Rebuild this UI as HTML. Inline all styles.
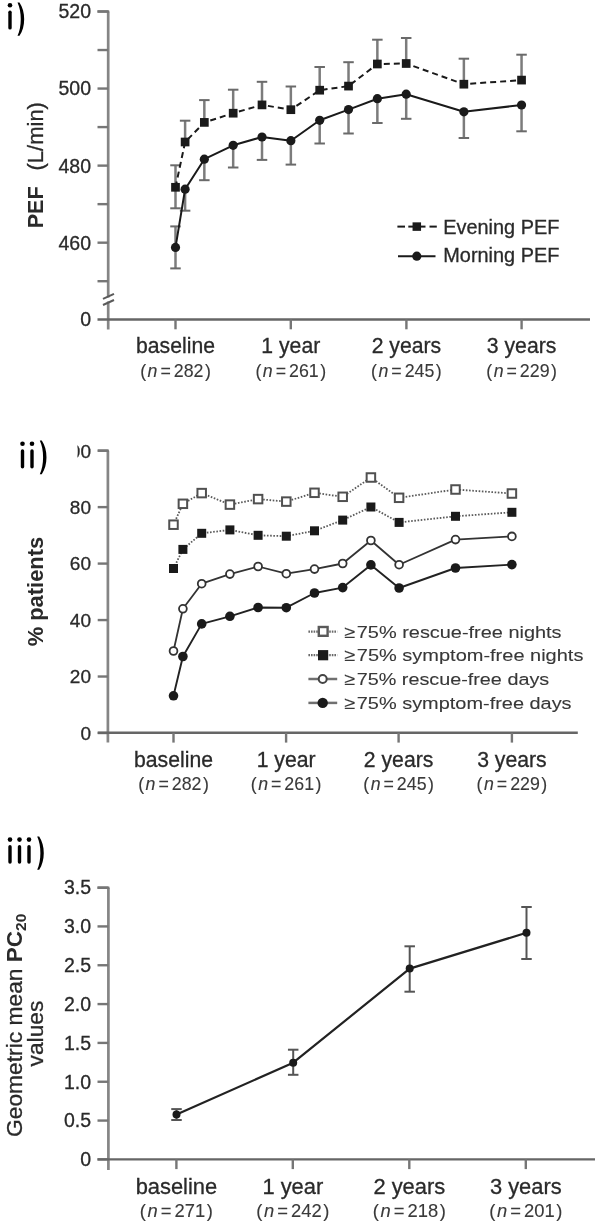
<!DOCTYPE html>
<html><head><meta charset="utf-8"><style>
html,body{margin:0;padding:0;background:#fff;width:597px;height:1226px;overflow:hidden}
svg{display:block;filter:blur(0.4px);}
text{font-family:"Liberation Sans",sans-serif;stroke:#2a2a2a;stroke-width:0.3px}
</style></head><body>
<svg width="597" height="1226" viewBox="0 0 597 1226">
<rect width="597" height="1226" fill="#fff"/>
<line x1="10.00" y1="12.20" x2="10.00" y2="27.90" stroke="#000" stroke-width="3.4" stroke-linecap="round"/>
<circle cx="10.00" cy="5.30" r="2.3" fill="#000"/>
<path d="M17.50,2.40 L19.50,2.40 C25.77,11.42 25.77,26.78 19.50,35.80 L17.50,35.80 C21.90,26.78 21.90,11.42 17.50,2.40 Z" fill="#000"/>
<line x1="108.20" y1="11.50" x2="108.20" y2="297.50" stroke="#858585" stroke-width="2.7" />
<line x1="108.20" y1="301.50" x2="108.20" y2="329.50" stroke="#858585" stroke-width="2.7" />
<line x1="97.50" y1="281.21" x2="108.20" y2="281.21" stroke="#767676" stroke-width="2.4" />
<line x1="97.50" y1="242.68" x2="108.20" y2="242.68" stroke="#767676" stroke-width="2.4" />
<line x1="97.50" y1="204.15" x2="108.20" y2="204.15" stroke="#767676" stroke-width="2.4" />
<line x1="97.50" y1="165.62" x2="108.20" y2="165.62" stroke="#767676" stroke-width="2.4" />
<line x1="97.50" y1="127.09" x2="108.20" y2="127.09" stroke="#767676" stroke-width="2.4" />
<line x1="97.50" y1="88.56" x2="108.20" y2="88.56" stroke="#767676" stroke-width="2.4" />
<line x1="97.50" y1="50.03" x2="108.20" y2="50.03" stroke="#767676" stroke-width="2.4" />
<line x1="97.50" y1="11.50" x2="108.20" y2="11.50" stroke="#767676" stroke-width="2.4" />
<line x1="97.50" y1="11.50" x2="109.20" y2="11.50" stroke="#767676" stroke-width="2.4" />
<line x1="103.00" y1="298.80" x2="114.00" y2="293.80" stroke="#5a5a5a" stroke-width="2" />
<line x1="103.00" y1="305.00" x2="114.00" y2="300.00" stroke="#5a5a5a" stroke-width="2" />
<line x1="97.50" y1="319.50" x2="590.00" y2="319.50" stroke="#666" stroke-width="2.4" />
<line x1="175.50" y1="319.50" x2="175.50" y2="329.30" stroke="#767676" stroke-width="2.4" />
<line x1="290.80" y1="319.50" x2="290.80" y2="329.30" stroke="#767676" stroke-width="2.4" />
<line x1="406.40" y1="319.50" x2="406.40" y2="329.30" stroke="#767676" stroke-width="2.4" />
<line x1="521.60" y1="319.50" x2="521.60" y2="329.30" stroke="#767676" stroke-width="2.4" />
<text x="91.00" y="18.40" font-size="19.5" text-anchor="end" font-weight="normal" fill="#2a2a2a" >520</text>
<text x="91.00" y="95.46" font-size="19.5" text-anchor="end" font-weight="normal" fill="#2a2a2a" >500</text>
<text x="91.00" y="172.52" font-size="19.5" text-anchor="end" font-weight="normal" fill="#2a2a2a" >480</text>
<text x="91.00" y="249.58" font-size="19.5" text-anchor="end" font-weight="normal" fill="#2a2a2a" >460</text>
<text x="91.00" y="326.40" font-size="19.5" text-anchor="end" font-weight="normal" fill="#2a2a2a" >0</text>
<text x="175.50" y="352.60" font-size="21.2" text-anchor="middle" font-weight="normal" fill="#2a2a2a" >baseline</text>
<text x="175.50" y="376.90" font-size="17.8" text-anchor="middle" fill="#3a3a3a" style="stroke-width:0.1px">( <tspan font-style="italic">n</tspan> = 282 )</text>
<text x="290.80" y="352.60" font-size="21.2" text-anchor="middle" font-weight="normal" fill="#2a2a2a" >1 year</text>
<text x="290.80" y="376.90" font-size="17.8" text-anchor="middle" fill="#3a3a3a" style="stroke-width:0.1px">( <tspan font-style="italic">n</tspan> = 261 )</text>
<text x="406.40" y="352.60" font-size="21.2" text-anchor="middle" font-weight="normal" fill="#2a2a2a" >2 years</text>
<text x="406.40" y="376.90" font-size="17.8" text-anchor="middle" fill="#3a3a3a" style="stroke-width:0.1px">( <tspan font-style="italic">n</tspan> = 245 )</text>
<text x="521.60" y="352.60" font-size="21.2" text-anchor="middle" font-weight="normal" fill="#2a2a2a" >3 years</text>
<text x="521.60" y="376.90" font-size="17.8" text-anchor="middle" fill="#3a3a3a" style="stroke-width:0.1px">( <tspan font-style="italic">n</tspan> = 229 )</text>
<text transform="translate(43.20,228.30) rotate(-90)" font-size="22.5" font-weight="bold" fill="#2a2a2a" textLength="42" lengthAdjust="spacingAndGlyphs" style="stroke-width:0">PEF</text>
<text transform="translate(43.20,170.50) rotate(-90)" font-size="22" font-weight="normal" fill="#2a2a2a">(L/min)</text>
<line x1="175.50" y1="187.30" x2="175.50" y2="165.30" stroke="#7c7c7c" stroke-width="2.5" />
<line x1="170.25" y1="165.30" x2="180.75" y2="165.30" stroke="#6a6a6a" stroke-width="2" />
<line x1="185.11" y1="142.00" x2="185.11" y2="120.70" stroke="#7c7c7c" stroke-width="2.5" />
<line x1="179.86" y1="120.70" x2="190.36" y2="120.70" stroke="#6a6a6a" stroke-width="2" />
<line x1="204.34" y1="122.40" x2="204.34" y2="100.10" stroke="#7c7c7c" stroke-width="2.5" />
<line x1="199.09" y1="100.10" x2="209.59" y2="100.10" stroke="#6a6a6a" stroke-width="2" />
<line x1="233.18" y1="113.20" x2="233.18" y2="89.70" stroke="#7c7c7c" stroke-width="2.5" />
<line x1="227.93" y1="89.70" x2="238.43" y2="89.70" stroke="#6a6a6a" stroke-width="2" />
<line x1="262.01" y1="104.90" x2="262.01" y2="81.80" stroke="#7c7c7c" stroke-width="2.5" />
<line x1="256.76" y1="81.80" x2="267.26" y2="81.80" stroke="#6a6a6a" stroke-width="2" />
<line x1="290.85" y1="109.70" x2="290.85" y2="86.50" stroke="#7c7c7c" stroke-width="2.5" />
<line x1="285.60" y1="86.50" x2="296.10" y2="86.50" stroke="#6a6a6a" stroke-width="2" />
<line x1="319.69" y1="90.20" x2="319.69" y2="67.00" stroke="#7c7c7c" stroke-width="2.5" />
<line x1="314.44" y1="67.00" x2="324.94" y2="67.00" stroke="#6a6a6a" stroke-width="2" />
<line x1="348.52" y1="86.10" x2="348.52" y2="62.20" stroke="#7c7c7c" stroke-width="2.5" />
<line x1="343.27" y1="62.20" x2="353.77" y2="62.20" stroke="#6a6a6a" stroke-width="2" />
<line x1="377.36" y1="64.00" x2="377.36" y2="39.70" stroke="#7c7c7c" stroke-width="2.5" />
<line x1="372.11" y1="39.70" x2="382.61" y2="39.70" stroke="#6a6a6a" stroke-width="2" />
<line x1="406.20" y1="63.50" x2="406.20" y2="38.00" stroke="#7c7c7c" stroke-width="2.5" />
<line x1="400.95" y1="38.00" x2="411.45" y2="38.00" stroke="#6a6a6a" stroke-width="2" />
<line x1="463.87" y1="84.20" x2="463.87" y2="58.70" stroke="#7c7c7c" stroke-width="2.5" />
<line x1="458.62" y1="58.70" x2="469.12" y2="58.70" stroke="#6a6a6a" stroke-width="2" />
<line x1="521.55" y1="80.10" x2="521.55" y2="54.70" stroke="#7c7c7c" stroke-width="2.5" />
<line x1="516.30" y1="54.70" x2="526.80" y2="54.70" stroke="#6a6a6a" stroke-width="2" />
<line x1="175.50" y1="247.40" x2="175.50" y2="268.40" stroke="#7c7c7c" stroke-width="2.5" />
<line x1="170.25" y1="268.40" x2="180.75" y2="268.40" stroke="#6a6a6a" stroke-width="2" />
<line x1="185.11" y1="189.20" x2="185.11" y2="210.70" stroke="#7c7c7c" stroke-width="2.5" />
<line x1="179.86" y1="210.70" x2="190.36" y2="210.70" stroke="#6a6a6a" stroke-width="2" />
<line x1="204.34" y1="159.20" x2="204.34" y2="180.20" stroke="#7c7c7c" stroke-width="2.5" />
<line x1="199.09" y1="180.20" x2="209.59" y2="180.20" stroke="#6a6a6a" stroke-width="2" />
<line x1="233.18" y1="145.30" x2="233.18" y2="167.50" stroke="#7c7c7c" stroke-width="2.5" />
<line x1="227.93" y1="167.50" x2="238.43" y2="167.50" stroke="#6a6a6a" stroke-width="2" />
<line x1="262.01" y1="137.00" x2="262.01" y2="159.90" stroke="#7c7c7c" stroke-width="2.5" />
<line x1="256.76" y1="159.90" x2="267.26" y2="159.90" stroke="#6a6a6a" stroke-width="2" />
<line x1="290.85" y1="140.70" x2="290.85" y2="164.60" stroke="#7c7c7c" stroke-width="2.5" />
<line x1="285.60" y1="164.60" x2="296.10" y2="164.60" stroke="#6a6a6a" stroke-width="2" />
<line x1="319.69" y1="120.30" x2="319.69" y2="143.50" stroke="#7c7c7c" stroke-width="2.5" />
<line x1="314.44" y1="143.50" x2="324.94" y2="143.50" stroke="#6a6a6a" stroke-width="2" />
<line x1="348.52" y1="109.60" x2="348.52" y2="133.50" stroke="#7c7c7c" stroke-width="2.5" />
<line x1="343.27" y1="133.50" x2="353.77" y2="133.50" stroke="#6a6a6a" stroke-width="2" />
<line x1="377.36" y1="98.70" x2="377.36" y2="123.00" stroke="#7c7c7c" stroke-width="2.5" />
<line x1="372.11" y1="123.00" x2="382.61" y2="123.00" stroke="#6a6a6a" stroke-width="2" />
<line x1="406.20" y1="94.20" x2="406.20" y2="118.80" stroke="#7c7c7c" stroke-width="2.5" />
<line x1="400.95" y1="118.80" x2="411.45" y2="118.80" stroke="#6a6a6a" stroke-width="2" />
<line x1="463.87" y1="111.80" x2="463.87" y2="138.00" stroke="#7c7c7c" stroke-width="2.5" />
<line x1="458.62" y1="138.00" x2="469.12" y2="138.00" stroke="#6a6a6a" stroke-width="2" />
<line x1="521.55" y1="105.00" x2="521.55" y2="131.30" stroke="#7c7c7c" stroke-width="2.5" />
<line x1="516.30" y1="131.30" x2="526.80" y2="131.30" stroke="#6a6a6a" stroke-width="2" />
<line x1="175.50" y1="187.30" x2="175.50" y2="208.30" stroke="#7c7c7c" stroke-width="2.5" />
<line x1="170.25" y1="208.30" x2="180.75" y2="208.30" stroke="#6a6a6a" stroke-width="2" />
<line x1="175.50" y1="247.40" x2="175.50" y2="226.40" stroke="#7c7c7c" stroke-width="2.5" />
<line x1="170.25" y1="226.40" x2="180.75" y2="226.40" stroke="#6a6a6a" stroke-width="2" />
<polyline points="175.50,187.30 185.11,142.00 204.34,122.40 233.18,113.20 262.01,104.90 290.85,109.70 319.69,90.20 348.52,86.10 377.36,64.00 406.20,63.50 463.87,84.20 521.55,80.10" fill="none" stroke="#1a1a1a" stroke-width="2" stroke-dasharray="6,4" stroke-linejoin="round"/>
<polyline points="175.50,247.40 185.11,189.20 204.34,159.20 233.18,145.30 262.01,137.00 290.85,140.70 319.69,120.30 348.52,109.60 377.36,98.70 406.20,94.20 463.87,111.80 521.55,105.00" fill="none" stroke="#1a1a1a" stroke-width="2" stroke-linejoin="round"/>
<rect x="171.15" y="182.95" width="8.70" height="8.70" fill="#1a1a1a"/>
<rect x="180.76" y="137.65" width="8.70" height="8.70" fill="#1a1a1a"/>
<rect x="199.99" y="118.05" width="8.70" height="8.70" fill="#1a1a1a"/>
<rect x="228.83" y="108.85" width="8.70" height="8.70" fill="#1a1a1a"/>
<rect x="257.66" y="100.55" width="8.70" height="8.70" fill="#1a1a1a"/>
<rect x="286.50" y="105.35" width="8.70" height="8.70" fill="#1a1a1a"/>
<rect x="315.34" y="85.85" width="8.70" height="8.70" fill="#1a1a1a"/>
<rect x="344.17" y="81.75" width="8.70" height="8.70" fill="#1a1a1a"/>
<rect x="373.01" y="59.65" width="8.70" height="8.70" fill="#1a1a1a"/>
<rect x="401.85" y="59.15" width="8.70" height="8.70" fill="#1a1a1a"/>
<rect x="459.52" y="79.85" width="8.70" height="8.70" fill="#1a1a1a"/>
<rect x="517.20" y="75.75" width="8.70" height="8.70" fill="#1a1a1a"/>
<circle cx="175.50" cy="247.40" r="4.60" fill="#1a1a1a"/>
<circle cx="185.11" cy="189.20" r="4.60" fill="#1a1a1a"/>
<circle cx="204.34" cy="159.20" r="4.60" fill="#1a1a1a"/>
<circle cx="233.18" cy="145.30" r="4.60" fill="#1a1a1a"/>
<circle cx="262.01" cy="137.00" r="4.60" fill="#1a1a1a"/>
<circle cx="290.85" cy="140.70" r="4.60" fill="#1a1a1a"/>
<circle cx="319.69" cy="120.30" r="4.60" fill="#1a1a1a"/>
<circle cx="348.52" cy="109.60" r="4.60" fill="#1a1a1a"/>
<circle cx="377.36" cy="98.70" r="4.60" fill="#1a1a1a"/>
<circle cx="406.20" cy="94.20" r="4.60" fill="#1a1a1a"/>
<circle cx="463.87" cy="111.80" r="4.60" fill="#1a1a1a"/>
<circle cx="521.55" cy="105.00" r="4.60" fill="#1a1a1a"/>
<line x1="397.40" y1="226.60" x2="405.00" y2="226.60" stroke="#1a1a1a" stroke-width="2" />
<line x1="408.30" y1="226.60" x2="425.50" y2="226.60" stroke="#1a1a1a" stroke-width="2" />
<line x1="429.50" y1="226.60" x2="436.80" y2="226.60" stroke="#1a1a1a" stroke-width="2" />
<rect x="412.55" y="222.35" width="8.50" height="8.50" fill="#1a1a1a"/>
<polyline points="398.00,256.20 435.50,256.20" fill="none" stroke="#1a1a1a" stroke-width="2" stroke-linejoin="round"/>
<circle cx="416.80" cy="256.20" r="4.60" fill="#1a1a1a"/>
<text x="443.30" y="234.00" font-size="20" text-anchor="start" font-weight="normal" fill="#2a2a2a" textLength="116" lengthAdjust="spacingAndGlyphs" >Evening PEF</text>
<text x="443.30" y="262.30" font-size="20" text-anchor="start" font-weight="normal" fill="#2a2a2a" textLength="116" lengthAdjust="spacingAndGlyphs" >Morning PEF</text>
<line x1="107.90" y1="450.70" x2="107.90" y2="742.40" stroke="#858585" stroke-width="2.7" />
<line x1="97.70" y1="733.00" x2="107.90" y2="733.00" stroke="#767676" stroke-width="2.4" />
<line x1="97.70" y1="676.53" x2="107.90" y2="676.53" stroke="#767676" stroke-width="2.4" />
<line x1="97.70" y1="620.06" x2="107.90" y2="620.06" stroke="#767676" stroke-width="2.4" />
<line x1="97.70" y1="563.59" x2="107.90" y2="563.59" stroke="#767676" stroke-width="2.4" />
<line x1="97.70" y1="507.12" x2="107.90" y2="507.12" stroke="#767676" stroke-width="2.4" />
<line x1="97.70" y1="450.65" x2="107.90" y2="450.65" stroke="#767676" stroke-width="2.4" />
<line x1="97.70" y1="450.70" x2="108.90" y2="450.70" stroke="#767676" stroke-width="2.4" />
<line x1="97.70" y1="732.80" x2="577.80" y2="732.80" stroke="#666" stroke-width="2.4" />
<line x1="173.50" y1="732.80" x2="173.50" y2="742.60" stroke="#767676" stroke-width="2.4" />
<line x1="286.10" y1="732.80" x2="286.10" y2="742.60" stroke="#767676" stroke-width="2.4" />
<line x1="398.60" y1="732.80" x2="398.60" y2="742.60" stroke="#767676" stroke-width="2.4" />
<line x1="511.90" y1="732.80" x2="511.90" y2="742.60" stroke="#767676" stroke-width="2.4" />
<text x="91.00" y="739.90" font-size="19" text-anchor="end" font-weight="normal" fill="#2a2a2a" >0</text>
<text x="91.00" y="683.43" font-size="19" text-anchor="end" font-weight="normal" fill="#2a2a2a" >20</text>
<text x="91.00" y="626.96" font-size="19" text-anchor="end" font-weight="normal" fill="#2a2a2a" >40</text>
<text x="91.00" y="570.49" font-size="19" text-anchor="end" font-weight="normal" fill="#2a2a2a" >60</text>
<text x="91.00" y="514.02" font-size="19" text-anchor="end" font-weight="normal" fill="#2a2a2a" >80</text>
<text x="91.00" y="457.55" font-size="19" text-anchor="end" font-weight="normal" fill="#2a2a2a" >100</text>
<rect x="0" y="436" width="77.4" height="28" fill="#fff"/>
<line x1="22.50" y1="451.00" x2="22.50" y2="466.80" stroke="#000" stroke-width="3.4" stroke-linecap="round"/>
<circle cx="22.50" cy="443.80" r="2.3" fill="#000"/>
<line x1="32.00" y1="451.00" x2="32.00" y2="466.80" stroke="#000" stroke-width="3.4" stroke-linecap="round"/>
<circle cx="32.00" cy="443.80" r="2.3" fill="#000"/>
<path d="M39.80,440.50 L41.80,440.50 C48.07,449.63 48.07,465.17 41.80,474.30 L39.80,474.30 C44.20,465.17 44.20,449.63 39.80,440.50 Z" fill="#000"/>
<text transform="translate(43.20,646.30) rotate(-90)" font-size="21.5" font-weight="bold" fill="#2a2a2a" textLength="109.5" lengthAdjust="spacingAndGlyphs" style="stroke-width:0">% patients</text>
<text x="173.50" y="766.60" font-size="21.2" text-anchor="middle" font-weight="normal" fill="#2a2a2a" >baseline</text>
<text x="173.50" y="789.50" font-size="17.8" text-anchor="middle" fill="#3a3a3a" style="stroke-width:0.1px">( <tspan font-style="italic">n</tspan> = 282 )</text>
<text x="286.10" y="766.60" font-size="21.2" text-anchor="middle" font-weight="normal" fill="#2a2a2a" >1 year</text>
<text x="286.10" y="789.50" font-size="17.8" text-anchor="middle" fill="#3a3a3a" style="stroke-width:0.1px">( <tspan font-style="italic">n</tspan> = 261 )</text>
<text x="398.60" y="766.60" font-size="21.2" text-anchor="middle" font-weight="normal" fill="#2a2a2a" >2 years</text>
<text x="398.60" y="789.50" font-size="17.8" text-anchor="middle" fill="#3a3a3a" style="stroke-width:0.1px">( <tspan font-style="italic">n</tspan> = 245 )</text>
<text x="511.90" y="766.60" font-size="21.2" text-anchor="middle" font-weight="normal" fill="#2a2a2a" >3 years</text>
<text x="511.90" y="789.50" font-size="17.8" text-anchor="middle" fill="#3a3a3a" style="stroke-width:0.1px">( <tspan font-style="italic">n</tspan> = 229 )</text>
<polyline points="173.50,524.70 182.90,503.80 201.70,493.10 229.90,504.60 258.10,499.10 286.30,501.60 314.50,492.80 342.70,496.80 370.90,477.50 399.10,497.80 455.50,489.50 511.90,493.50" fill="none" stroke="#5a5a5a" stroke-width="1.8" stroke-dasharray="1.6,1.6" stroke-linejoin="round"/>
<polyline points="173.50,568.50 182.90,549.40 201.70,533.30 229.90,529.90 258.10,535.30 286.30,536.20 314.50,530.80 342.70,520.10 370.90,507.00 399.10,522.40 455.50,516.30 511.90,512.30" fill="none" stroke="#5a5a5a" stroke-width="1.8" stroke-dasharray="1.6,1.6" stroke-linejoin="round"/>
<polyline points="173.50,651.00 182.90,608.80 201.70,583.70 229.90,574.10 258.10,566.50 286.30,573.70 314.50,569.10 342.70,563.50 370.90,540.50 399.10,564.70 455.50,539.60 511.90,536.40" fill="none" stroke="#333" stroke-width="1.8" stroke-linejoin="round"/>
<polyline points="173.50,695.80 182.90,656.50 201.70,623.90 229.90,616.30 258.10,607.50 286.30,607.70 314.50,593.00 342.70,587.60 370.90,564.90 399.10,588.00 455.50,568.00 511.90,564.60" fill="none" stroke="#222" stroke-width="1.9" stroke-linejoin="round"/>
<rect x="169.25" y="520.45" width="8.50" height="8.50" fill="#fff" stroke="#505050" stroke-width="2"/>
<rect x="178.65" y="499.55" width="8.50" height="8.50" fill="#fff" stroke="#505050" stroke-width="2"/>
<rect x="197.45" y="488.85" width="8.50" height="8.50" fill="#fff" stroke="#505050" stroke-width="2"/>
<rect x="225.65" y="500.35" width="8.50" height="8.50" fill="#fff" stroke="#505050" stroke-width="2"/>
<rect x="253.85" y="494.85" width="8.50" height="8.50" fill="#fff" stroke="#505050" stroke-width="2"/>
<rect x="282.05" y="497.35" width="8.50" height="8.50" fill="#fff" stroke="#505050" stroke-width="2"/>
<rect x="310.25" y="488.55" width="8.50" height="8.50" fill="#fff" stroke="#505050" stroke-width="2"/>
<rect x="338.45" y="492.55" width="8.50" height="8.50" fill="#fff" stroke="#505050" stroke-width="2"/>
<rect x="366.65" y="473.25" width="8.50" height="8.50" fill="#fff" stroke="#505050" stroke-width="2"/>
<rect x="394.85" y="493.55" width="8.50" height="8.50" fill="#fff" stroke="#505050" stroke-width="2"/>
<rect x="451.25" y="485.25" width="8.50" height="8.50" fill="#fff" stroke="#505050" stroke-width="2"/>
<rect x="507.65" y="489.25" width="8.50" height="8.50" fill="#fff" stroke="#505050" stroke-width="2"/>
<rect x="169.00" y="564.00" width="9.00" height="9.00" fill="#1a1a1a"/>
<rect x="178.40" y="544.90" width="9.00" height="9.00" fill="#1a1a1a"/>
<rect x="197.20" y="528.80" width="9.00" height="9.00" fill="#1a1a1a"/>
<rect x="225.40" y="525.40" width="9.00" height="9.00" fill="#1a1a1a"/>
<rect x="253.60" y="530.80" width="9.00" height="9.00" fill="#1a1a1a"/>
<rect x="281.80" y="531.70" width="9.00" height="9.00" fill="#1a1a1a"/>
<rect x="310.00" y="526.30" width="9.00" height="9.00" fill="#1a1a1a"/>
<rect x="338.20" y="515.60" width="9.00" height="9.00" fill="#1a1a1a"/>
<rect x="366.40" y="502.50" width="9.00" height="9.00" fill="#1a1a1a"/>
<rect x="394.60" y="517.90" width="9.00" height="9.00" fill="#1a1a1a"/>
<rect x="451.00" y="511.80" width="9.00" height="9.00" fill="#1a1a1a"/>
<rect x="507.40" y="507.80" width="9.00" height="9.00" fill="#1a1a1a"/>
<circle cx="173.50" cy="651.00" r="3.90" fill="#fff" stroke="#333" stroke-width="1.8"/>
<circle cx="182.90" cy="608.80" r="3.90" fill="#fff" stroke="#333" stroke-width="1.8"/>
<circle cx="201.70" cy="583.70" r="3.90" fill="#fff" stroke="#333" stroke-width="1.8"/>
<circle cx="229.90" cy="574.10" r="3.90" fill="#fff" stroke="#333" stroke-width="1.8"/>
<circle cx="258.10" cy="566.50" r="3.90" fill="#fff" stroke="#333" stroke-width="1.8"/>
<circle cx="286.30" cy="573.70" r="3.90" fill="#fff" stroke="#333" stroke-width="1.8"/>
<circle cx="314.50" cy="569.10" r="3.90" fill="#fff" stroke="#333" stroke-width="1.8"/>
<circle cx="342.70" cy="563.50" r="3.90" fill="#fff" stroke="#333" stroke-width="1.8"/>
<circle cx="370.90" cy="540.50" r="3.90" fill="#fff" stroke="#333" stroke-width="1.8"/>
<circle cx="399.10" cy="564.70" r="3.90" fill="#fff" stroke="#333" stroke-width="1.8"/>
<circle cx="455.50" cy="539.60" r="3.90" fill="#fff" stroke="#333" stroke-width="1.8"/>
<circle cx="511.90" cy="536.40" r="3.90" fill="#fff" stroke="#333" stroke-width="1.8"/>
<circle cx="173.50" cy="695.80" r="4.80" fill="#1a1a1a"/>
<circle cx="182.90" cy="656.50" r="4.80" fill="#1a1a1a"/>
<circle cx="201.70" cy="623.90" r="4.80" fill="#1a1a1a"/>
<circle cx="229.90" cy="616.30" r="4.80" fill="#1a1a1a"/>
<circle cx="258.10" cy="607.50" r="4.80" fill="#1a1a1a"/>
<circle cx="286.30" cy="607.70" r="4.80" fill="#1a1a1a"/>
<circle cx="314.50" cy="593.00" r="4.80" fill="#1a1a1a"/>
<circle cx="342.70" cy="587.60" r="4.80" fill="#1a1a1a"/>
<circle cx="370.90" cy="564.90" r="4.80" fill="#1a1a1a"/>
<circle cx="399.10" cy="588.00" r="4.80" fill="#1a1a1a"/>
<circle cx="455.50" cy="568.00" r="4.80" fill="#1a1a1a"/>
<circle cx="511.90" cy="564.60" r="4.80" fill="#1a1a1a"/>
<polyline points="308.40,631.70 337.20,631.70" fill="none" stroke="#6a6a6a" stroke-width="2.2" stroke-dasharray="1.6,1" stroke-linejoin="round"/>
<rect x="318.80" y="627.00" width="8.80" height="8.80" fill="#fff" stroke="#5a5a5a" stroke-width="2.4"/>
<text x="344.20" y="637.80" font-size="17.2" text-anchor="start" font-weight="normal" fill="#383838" textLength="217.4" lengthAdjust="spacingAndGlyphs" style="stroke-width:0.1px">≥ 75% rescue-free nights</text>
<polyline points="308.40,655.20 337.20,655.20" fill="none" stroke="#6a6a6a" stroke-width="2.2" stroke-dasharray="1.6,1" stroke-linejoin="round"/>
<rect x="318.00" y="650.10" width="10.20" height="10.20" fill="#1a1a1a"/>
<text x="344.20" y="661.30" font-size="17.2" text-anchor="start" font-weight="normal" fill="#383838" textLength="239.2" lengthAdjust="spacingAndGlyphs" style="stroke-width:0.1px">≥ 75% symptom-free nights</text>
<polyline points="308.40,679.00 337.20,679.00" fill="none" stroke="#707070" stroke-width="2.5" stroke-linejoin="round"/>
<circle cx="322.70" cy="679.00" r="4.00" fill="#fff" stroke="#444" stroke-width="2"/>
<text x="344.20" y="685.10" font-size="17.2" text-anchor="start" font-weight="normal" fill="#383838" textLength="205" lengthAdjust="spacingAndGlyphs" style="stroke-width:0.1px">≥ 75% rescue-free days</text>
<polyline points="308.40,702.90 337.20,702.90" fill="none" stroke="#707070" stroke-width="2.5" stroke-linejoin="round"/>
<circle cx="322.70" cy="702.90" r="5.20" fill="#1a1a1a"/>
<text x="344.20" y="709.00" font-size="17.2" text-anchor="start" font-weight="normal" fill="#383838" textLength="227.4" lengthAdjust="spacingAndGlyphs" style="stroke-width:0.1px">≥ 75% symptom-free days</text>
<line x1="108.40" y1="887.80" x2="108.40" y2="1169.90" stroke="#858585" stroke-width="2.7" />
<line x1="97.50" y1="1159.40" x2="108.40" y2="1159.40" stroke="#767676" stroke-width="2.4" />
<line x1="97.50" y1="1120.57" x2="108.40" y2="1120.57" stroke="#767676" stroke-width="2.4" />
<line x1="97.50" y1="1081.74" x2="108.40" y2="1081.74" stroke="#767676" stroke-width="2.4" />
<line x1="97.50" y1="1042.91" x2="108.40" y2="1042.91" stroke="#767676" stroke-width="2.4" />
<line x1="97.50" y1="1004.08" x2="108.40" y2="1004.08" stroke="#767676" stroke-width="2.4" />
<line x1="97.50" y1="965.25" x2="108.40" y2="965.25" stroke="#767676" stroke-width="2.4" />
<line x1="97.50" y1="926.42" x2="108.40" y2="926.42" stroke="#767676" stroke-width="2.4" />
<line x1="97.50" y1="887.59" x2="108.40" y2="887.59" stroke="#767676" stroke-width="2.4" />
<line x1="97.50" y1="887.80" x2="109.40" y2="887.80" stroke="#767676" stroke-width="2.4" />
<line x1="97.50" y1="1159.40" x2="595.00" y2="1159.40" stroke="#666" stroke-width="2.4" />
<line x1="176.40" y1="1159.40" x2="176.40" y2="1169.10" stroke="#767676" stroke-width="2.4" />
<line x1="292.80" y1="1159.40" x2="292.80" y2="1169.10" stroke="#767676" stroke-width="2.4" />
<line x1="409.30" y1="1159.40" x2="409.30" y2="1169.10" stroke="#767676" stroke-width="2.4" />
<line x1="525.80" y1="1159.40" x2="525.80" y2="1169.10" stroke="#767676" stroke-width="2.4" />
<text x="91.00" y="1166.30" font-size="19.5" text-anchor="end" font-weight="normal" fill="#2a2a2a" >0</text>
<text x="91.00" y="1127.47" font-size="19.5" text-anchor="end" font-weight="normal" fill="#2a2a2a" >0.5</text>
<text x="91.00" y="1088.64" font-size="19.5" text-anchor="end" font-weight="normal" fill="#2a2a2a" >1.0</text>
<text x="91.00" y="1049.81" font-size="19.5" text-anchor="end" font-weight="normal" fill="#2a2a2a" >1.5</text>
<text x="91.00" y="1010.98" font-size="19.5" text-anchor="end" font-weight="normal" fill="#2a2a2a" >2.0</text>
<text x="91.00" y="972.15" font-size="19.5" text-anchor="end" font-weight="normal" fill="#2a2a2a" >2.5</text>
<text x="91.00" y="933.32" font-size="19.5" text-anchor="end" font-weight="normal" fill="#2a2a2a" >3.0</text>
<text x="91.00" y="894.49" font-size="19.5" text-anchor="end" font-weight="normal" fill="#2a2a2a" >3.5</text>
<line x1="10.00" y1="846.80" x2="10.00" y2="862.00" stroke="#000" stroke-width="3.4" stroke-linecap="round"/>
<circle cx="10.00" cy="839.60" r="2.3" fill="#000"/>
<line x1="19.50" y1="846.80" x2="19.50" y2="862.00" stroke="#000" stroke-width="3.4" stroke-linecap="round"/>
<circle cx="19.50" cy="839.60" r="2.3" fill="#000"/>
<line x1="29.00" y1="846.80" x2="29.00" y2="862.00" stroke="#000" stroke-width="3.4" stroke-linecap="round"/>
<circle cx="29.00" cy="839.60" r="2.3" fill="#000"/>
<path d="M37.20,836.50 L39.20,836.50 C45.33,845.49 45.33,860.81 39.20,869.80 L37.20,869.80 C41.47,860.81 41.47,845.49 37.20,836.50 Z" fill="#000"/>
<text transform="translate(21.9,1137) rotate(-90)" font-size="22.8" fill="#2a2a2a">Geometric mean <tspan font-weight="bold" font-size="22.5" style="stroke-width:0">PC</tspan><tspan font-size="15.5" dy="3.6" font-weight="bold" style="stroke-width:0">20</tspan></text>
<text transform="translate(43.30,1066.50) rotate(-90)" font-size="22.8" font-weight="normal" fill="#2a2a2a">values</text>
<text x="176.40" y="1193.80" font-size="21.9" text-anchor="middle" font-weight="normal" fill="#2a2a2a" >baseline</text>
<text x="176.40" y="1216.90" font-size="18.4" text-anchor="middle" fill="#3a3a3a" style="stroke-width:0.1px">( <tspan font-style="italic">n</tspan> = 271 )</text>
<text x="292.80" y="1193.80" font-size="21.9" text-anchor="middle" font-weight="normal" fill="#2a2a2a" >1 year</text>
<text x="292.80" y="1216.90" font-size="18.4" text-anchor="middle" fill="#3a3a3a" style="stroke-width:0.1px">( <tspan font-style="italic">n</tspan> = 242 )</text>
<text x="409.30" y="1193.80" font-size="21.9" text-anchor="middle" font-weight="normal" fill="#2a2a2a" >2 years</text>
<text x="409.30" y="1216.90" font-size="18.4" text-anchor="middle" fill="#3a3a3a" style="stroke-width:0.1px">( <tspan font-style="italic">n</tspan> = 218 )</text>
<text x="525.80" y="1193.80" font-size="21.9" text-anchor="middle" font-weight="normal" fill="#2a2a2a" >3 years</text>
<text x="525.80" y="1216.90" font-size="18.4" text-anchor="middle" fill="#3a3a3a" style="stroke-width:0.1px">( <tspan font-style="italic">n</tspan> = 201 )</text>
<line x1="176.50" y1="1109.10" x2="176.50" y2="1120.00" stroke="#555" stroke-width="2" />
<line x1="171.25" y1="1109.10" x2="181.75" y2="1109.10" stroke="#555" stroke-width="2" />
<line x1="171.25" y1="1120.00" x2="181.75" y2="1120.00" stroke="#555" stroke-width="2" />
<line x1="293.20" y1="1049.70" x2="293.20" y2="1074.80" stroke="#555" stroke-width="2" />
<line x1="287.95" y1="1049.70" x2="298.45" y2="1049.70" stroke="#555" stroke-width="2" />
<line x1="287.95" y1="1074.80" x2="298.45" y2="1074.80" stroke="#555" stroke-width="2" />
<line x1="409.70" y1="946.30" x2="409.70" y2="991.70" stroke="#555" stroke-width="2" />
<line x1="404.45" y1="946.30" x2="414.95" y2="946.30" stroke="#555" stroke-width="2" />
<line x1="404.45" y1="991.70" x2="414.95" y2="991.70" stroke="#555" stroke-width="2" />
<line x1="526.50" y1="907.00" x2="526.50" y2="959.00" stroke="#555" stroke-width="2" />
<line x1="521.25" y1="907.00" x2="531.75" y2="907.00" stroke="#555" stroke-width="2" />
<line x1="521.25" y1="959.00" x2="531.75" y2="959.00" stroke="#555" stroke-width="2" />
<polyline points="176.50,1114.60 293.20,1062.70 409.70,968.60 526.50,932.80" fill="none" stroke="#222" stroke-width="2.2" stroke-linejoin="round"/>
<circle cx="176.50" cy="1114.60" r="4.00" fill="#1a1a1a"/>
<circle cx="293.20" cy="1062.70" r="4.00" fill="#1a1a1a"/>
<circle cx="409.70" cy="968.60" r="4.00" fill="#1a1a1a"/>
<circle cx="526.50" cy="932.80" r="4.00" fill="#1a1a1a"/>
</svg></body></html>
